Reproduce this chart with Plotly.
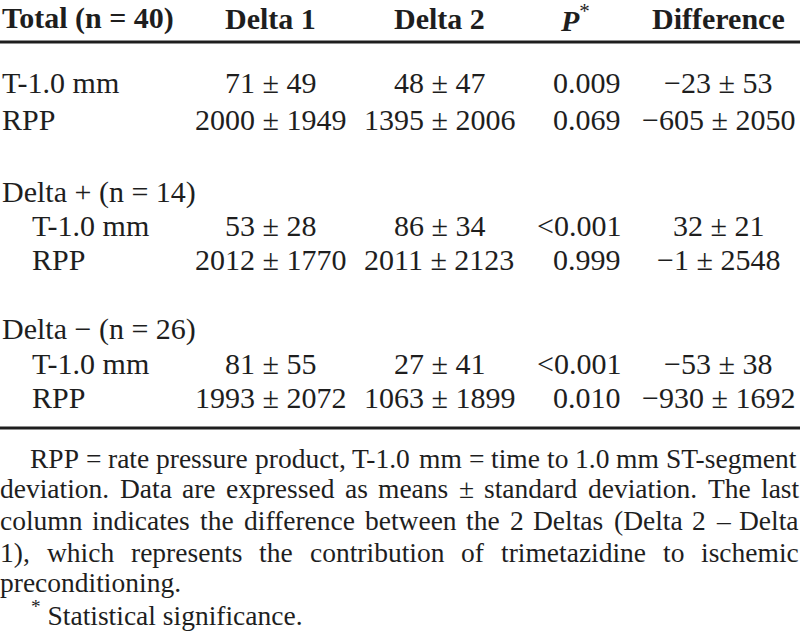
import plotly.graph_objects as go

# ---- data ----
header = ["Total (n = 40)", "Delta 1", "Delta 2", "P*", "Difference"]
row_labels = ["T-1.0 mm", "RPP", "T-1.0 mm", "RPP", "T-1.0 mm", "RPP"]
group_labels = ["Delta + (n = 14)", "Delta \u2212 (n = 26)"]
delta1_mean = [71, 2000, 53, 2012, 81, 1993]
delta1_sd = [49, 1949, 28, 1770, 55, 2072]
delta2_mean = [48, 1395, 86, 2011, 27, 1063]
delta2_sd = [47, 2006, 34, 2123, 41, 1899]
p_values = ["0.009", "0.069", "<0.001", "0.999", "<0.001", "0.010"]
diff_mean = [-23, -605, 32, -1, -53, -930]
diff_sd = [53, 2050, 21, 2548, 38, 1692]
footnote_lines = [
    "RPP = rate pressure product, T-1.0 mm = time to 1.0 mm ST-segment",
    "deviation. Data are expressed as means \u00b1 standard deviation. The last",
    "column indicates the difference between the 2 Deltas (Delta 2 \u2013 Delta",
    "1), which represents the contribution of trimetazidine to ischemic",
    "preconditioning.",
]
footnote_star = "Statistical significance."

FONT = "Liberation Serif, Times New Roman, serif"
INK = "#1e1e1e"
FS = 30
FN = 27.5

# layout positions (pixels)
row_y = [82, 119, 225, 259, 363, 397]
group_y = [192, 329]
row_x = [2, 2, 32, 32, 32, 32]
col_d1, col_d2, col_p, col_diff = 270, 439, 621, 718
foot_y = [458, 488, 520, 552, 582]
foot_left = [30, 0, 0, 0, 0]
foot_justify = [True, True, True, True, False]
FOOT_RIGHT = 799

# Times-compatible advance widths (1/1000 em) used to justify the footnote
W = {" ": 250, "(": 333, ")": 333, ",": 250, "-": 333, ".": 250, "=": 564,
     "\u00b1": 549, "\u2013": 500,
     "A": 722, "B": 667, "C": 667, "D": 722, "E": 611, "F": 556, "G": 722,
     "H": 722, "I": 333, "J": 389, "K": 722, "L": 611, "M": 889, "N": 722,
     "O": 722, "P": 556, "Q": 722, "R": 667, "S": 556, "T": 611, "U": 722,
     "V": 722, "W": 944, "X": 722, "Y": 722, "Z": 611,
     "a": 444, "b": 500, "c": 444, "d": 500, "e": 444, "f": 333, "g": 500,
     "h": 500, "i": 278, "j": 278, "k": 500, "l": 278, "m": 778, "n": 500,
     "o": 500, "p": 500, "q": 500, "r": 333, "s": 389, "t": 278, "u": 500,
     "v": 500, "w": 722, "x": 500, "y": 500, "z": 444}


def tw(s, size):
    return sum(W.get(c, 500) for c in s) * size / 1000.0


def pm(m, s):
    ms = ("\u2212" + str(abs(m))) if m < 0 else str(m)
    return f"{ms} \u00b1 {s}"


ann = []


def add(text, x, y, anchor="left", size=FS, bold=False):
    if bold:
        text = f"<b>{text}</b>"
    ann.append(dict(text=text, x=x, y=y, xref="x", yref="y", xanchor=anchor,
                    yanchor="middle", showarrow=False, borderpad=0, borderwidth=0,
                    font=dict(family=FONT, size=size, color=INK)))


# header
add(header[0], 2, 18, "left", bold=True)
add(header[1], col_d1, 18, "center", bold=True)
add(header[2], col_d2, 18, "center", bold=True)
add("<b><i>P</i></b><sup>*</sup>", 575, 18, "center")
add(header[4], col_diff, 18, "center", bold=True)

for g, gy in zip(group_labels, group_y):
    add(g, 2, gy, "left")

for i in range(len(row_labels)):
    y = row_y[i]
    add(row_labels[i], row_x[i], y, "left")
    add(pm(delta1_mean[i], delta1_sd[i]), col_d1, y, "center")
    add(pm(delta2_mean[i], delta2_sd[i]), col_d2, y, "center")
    add(p_values[i], col_p, y, "right")
    add(pm(diff_mean[i], diff_sd[i]), col_diff, y, "center")

# justified footnote paragraph
for line, x0, y, just in zip(footnote_lines, foot_left, foot_y, foot_justify):
    if not just:
        add(line, x0, y, "left", size=FN)
        continue
    words = line.split(" ")
    widths = [tw(w, FN) for w in words]
    gap = (FOOT_RIGHT - x0 - sum(widths)) / (len(words) - 1)
    x = x0
    for w, wd in zip(words, widths):
        add(w, x, y, "left", size=FN)
        x += wd + gap
add("<sup>*</sup> " + footnote_star, 31, 613, "left", size=FN)

shapes = [
    dict(type="line", xref="x", yref="y", x0=0, x1=800, y0=42, y1=42,
         line=dict(color=INK, width=3)),
    dict(type="line", xref="x", yref="y", x0=0, x1=800, y0=428, y1=428,
         line=dict(color=INK, width=3)),
]

fig = go.Figure()
fig.update_layout(
    width=800, height=632,
    margin=dict(l=0, r=0, t=0, b=0),
    paper_bgcolor="white", plot_bgcolor="white",
    xaxis=dict(range=[0, 800], visible=False, fixedrange=True),
    yaxis=dict(range=[632, 0], visible=False, fixedrange=True),
    annotations=ann, shapes=shapes, showlegend=False,
)
fig.write_html("out.html", config={"displayModeBar": False, "staticPlot": True},
               post_script="document.body.style.margin='0';document.body.style.padding='0';")
